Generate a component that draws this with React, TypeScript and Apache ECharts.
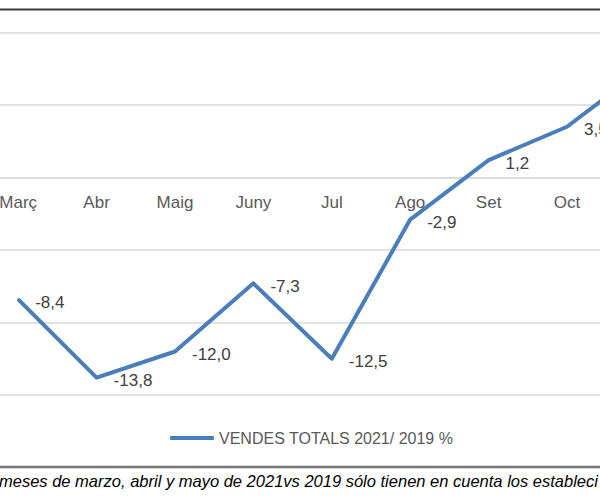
import React, { useEffect, useRef } from "react";
import * as echarts from "echarts";

const categories = ["Març", "Abr", "Maig", "Juny", "Jul", "Ago", "Set", "Oct", "Nov"];
const salesValues = [-8.4, -13.8, -12.0, -7.3, -12.5, -2.9, 1.2, 3.5, 7.6];
const seriesName = "VENDES TOTALS 2021/ 2019 %";
const footnote =
  "meses de marzo, abril y mayo de 2021vs 2019 sólo tienen en cuenta los estableci";

const FONT = "'Liberation Sans', Arial, sans-serif";
const SHIFT = 100; // chart canvas starts this far left of the visible frame
const VISIBLE = 8; // categories inside the visible frame

export default function App() {
  const ref = useRef<HTMLDivElement>(null);
  useEffect(() => {
    if (!ref.current) return;
    const chart = echarts.init(ref.current, null, { renderer: "svg" });
    const seriesData = salesValues.map((v, i) =>
      i < VISIBLE ? { value: v } : { value: v, label: { show: false } }
    );
    chart.setOption({
      animation: false,
      backgroundColor: "#ffffff",
      textStyle: { fontFamily: FONT },
      grid: {
        left: SHIFT - 21,
        right: 15.4,
        top: 32.5,
        bottom: 105,
        containLabel: false,
        outerBoundsMode: "none",
      },
      xAxis: {
        type: "category",
        data: categories,
        boundaryGap: true,
        offset: -217,
        axisLine: { show: true, onZero: false, lineStyle: { color: "#d9d9d9", width: 1.5 } },
        axisTick: { show: false },
        axisLabel: {
          interval: 0,
          margin: 16,
          color: "#595959",
          fontSize: 17,
          fontFamily: FONT,
          formatter: (v: string, i: number) => (i < VISIBLE ? v : ""),
        },
      },
      yAxis: {
        type: "value",
        min: -15,
        max: 10,
        interval: 5,
        axisLabel: { show: false },
        axisLine: { show: false },
        axisTick: { show: false },
        splitLine: { show: true, lineStyle: { color: "#d9d9d9", width: 1.5 } },
      },
      legend: {
        show: true,
        left: SHIFT + 165,
        top: 425,
        icon: "roundRect",
        itemWidth: 44,
        itemHeight: 4,
        itemGap: 5,
        textStyle: { color: "#595959", fontSize: 16, fontFamily: FONT },
        data: [seriesName],
      },
      series: [
        {
          name: seriesName,
          type: "line",
          data: seriesData,
          showSymbol: true,
          symbol: "circle",
          symbolSize: 2,
          lineStyle: { color: "#4a7ebb", width: 4, join: "round" },
          itemStyle: { color: "#4a7ebb" },
          label: {
            show: true,
            position: "right",
            distance: 16,
            offset: [0, 3],
            color: "#404040",
            fontSize: 17,
            fontFamily: FONT,
            formatter: (p: any) => Number(p.value).toFixed(1).replace(".", ","),
          },
        },
      ],
      graphic: [
        {
          type: "line",
          shape: { x1: SHIFT, y1: 9.5, x2: SHIFT + 600, y2: 9.5 },
          style: { stroke: "#3a3a3a", lineWidth: 2 },
          silent: true,
        },
        {
          type: "line",
          shape: { x1: SHIFT, y1: 467, x2: SHIFT + 600, y2: 467 },
          style: { stroke: "#777777", lineWidth: 2.5 },
          silent: true,
        },
        {
          type: "text",
          x: SHIFT - 1,
          y: 481,
          style: {
            text: footnote,
            fill: "#000000",
            font: "italic 16.5px 'Liberation Sans', Arial, sans-serif",
            textVerticalAlign: "middle",
            textAlign: "left",
          },
          silent: true,
        },
      ],
    });
    return () => chart.dispose();
  }, []);
  return (
    <div
      style={{
        position: "absolute",
        left: 0,
        top: 0,
        width: 600,
        height: 500,
        overflow: "hidden",
        background: "#fff",
      }}
    >
      <div
        ref={ref}
        style={{ position: "absolute", left: -SHIFT, top: 0, width: 800, height: 500 }}
      />
    </div>
  );
}
